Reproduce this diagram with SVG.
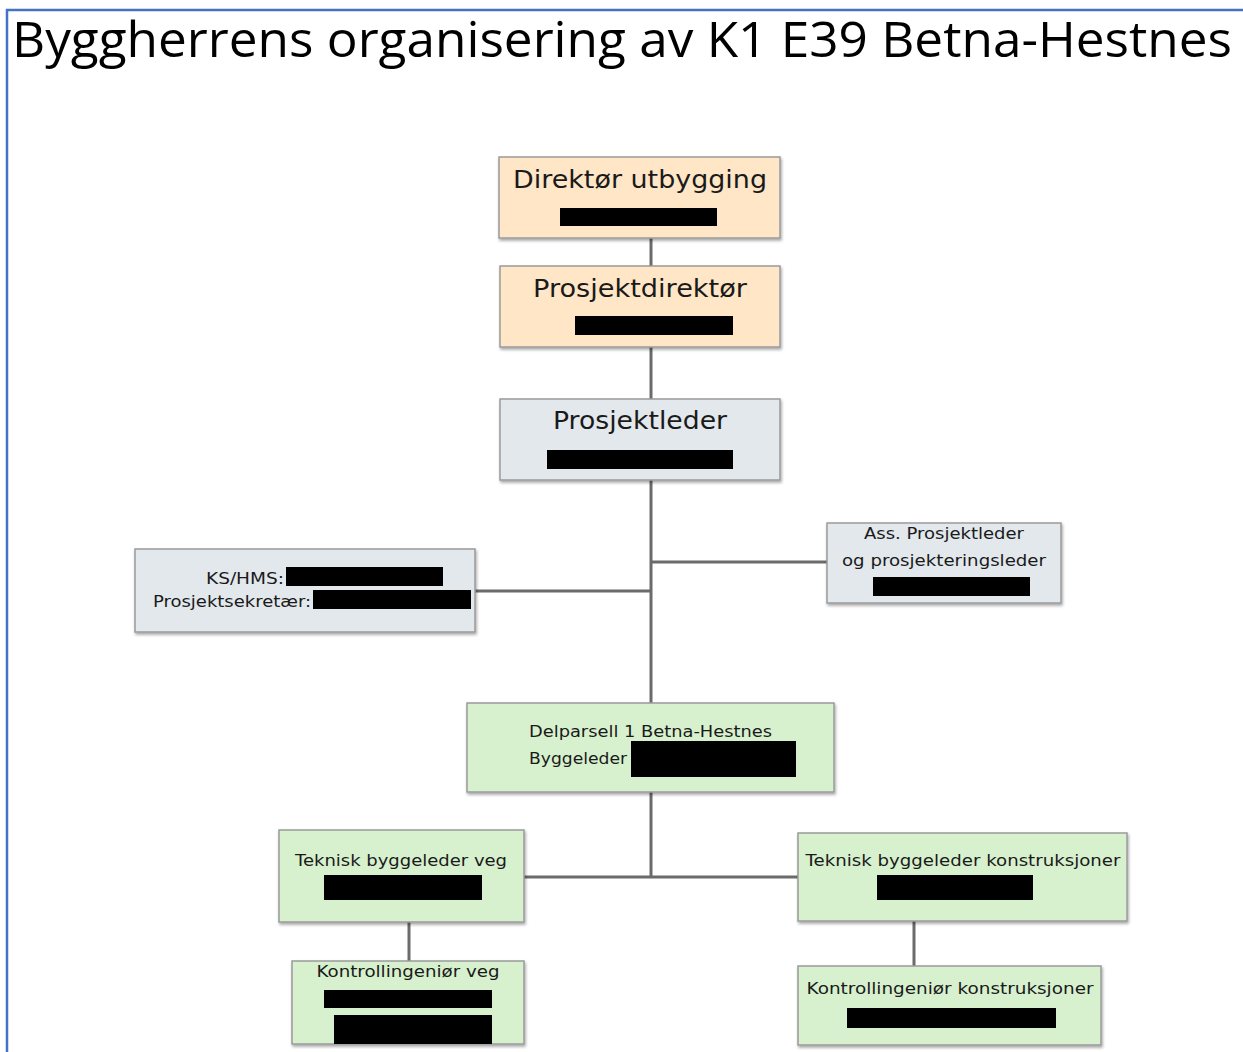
<svg xmlns="http://www.w3.org/2000/svg" width="1243" height="1052" viewBox="0 0 1243 1052">
<defs>
<filter id="sh" x="-5%" y="-5%" width="115%" height="125%">
<feDropShadow dx="1" dy="2" stdDeviation="1.5" flood-color="#000" flood-opacity="0.35"/>
</filter>
<style>
.box{stroke:#9a9a9a;stroke-width:1.5;filter:url(#sh)}
.peach{fill:#FFE6C6}
.grey{fill:#E2E8EC}
.green{fill:#D7F1CE}
.red{fill:#000}
.t{font-family:"DejaVu Sans","Verdana",sans-serif;fill:#1a1a1a}
.big{font-size:25px}
.sm{font-size:16px}
.conn{stroke:#6b6b6b;stroke-width:3;fill:none}
</style>
</defs>
<rect x="0" y="0" width="1243" height="1052" fill="#fff"/>
<path d="M7,1052 V10 H1243" fill="none" stroke="#4472C4" stroke-width="2.5"/>
<text x="12" y="57" font-family="'Open Sans','Liberation Sans',sans-serif" font-size="50" textLength="1220" lengthAdjust="spacingAndGlyphs" fill="#000">Byggherrens organisering av K1 E39 Betna-Hestnes</text>

<g id="connectors">
<line class="conn" x1="651" y1="238" x2="651" y2="266"/>
<line class="conn" x1="651" y1="347" x2="651" y2="399"/>
<line class="conn" x1="651" y1="480" x2="651" y2="703"/>
<line class="conn" x1="651" y1="562" x2="827" y2="562"/>
<line class="conn" x1="475" y1="591" x2="651" y2="591"/>
<line class="conn" x1="651" y1="792" x2="651" y2="877"/>
<line class="conn" x1="524" y1="877" x2="798" y2="877"/>
<line class="conn" x1="409" y1="922" x2="409" y2="961"/>
<line class="conn" x1="914" y1="921" x2="914" y2="966"/>
</g>

<g id="direktor">
<rect class="box peach" x="499" y="157" width="281" height="81"/>
<text class="t big" x="640" y="188" text-anchor="middle" textLength="254" lengthAdjust="spacingAndGlyphs">Direktør utbygging</text>
<rect class="red" x="560" y="208" width="157" height="18"/>
</g>

<g id="prosjektdirektor">
<rect class="box peach" x="500" y="266" width="280" height="81"/>
<text class="t big" x="640" y="297" text-anchor="middle" textLength="214" lengthAdjust="spacingAndGlyphs">Prosjektdirektør</text>
<rect class="red" x="575" y="316" width="158" height="19"/>
</g>

<g id="prosjektleder">
<rect class="box grey" x="500" y="399" width="280" height="81"/>
<text class="t big" x="640" y="429" text-anchor="middle" font-size="26" textLength="174" lengthAdjust="spacingAndGlyphs">Prosjektleder</text>
<rect class="red" x="547" y="450" width="186" height="19"/>
</g>

<g id="ks-hms">
<rect class="box grey" x="135" y="549" width="340" height="83"/>
<text class="t sm" x="284" y="584" text-anchor="end" textLength="78" lengthAdjust="spacingAndGlyphs">KS/HMS:</text>
<rect class="red" x="286" y="567" width="157" height="19"/>
<text class="t sm" x="311" y="607" text-anchor="end" textLength="158" lengthAdjust="spacingAndGlyphs">Prosjektsekretær:</text>
<rect class="red" x="313" y="590" width="158" height="19"/>
</g>

<g id="ass-prosjektleder">
<rect class="box grey" x="827" y="523" width="234" height="80"/>
<text class="t sm" x="944" y="539" text-anchor="middle" textLength="160" lengthAdjust="spacingAndGlyphs">Ass. Prosjektleder</text>
<text class="t sm" x="944" y="566" text-anchor="middle" textLength="204" lengthAdjust="spacingAndGlyphs">og prosjekteringsleder</text>
<rect class="red" x="873" y="577" width="157" height="19"/>
</g>

<g id="delparsell">
<rect class="box green" x="467" y="703" width="367" height="89"/>
<text class="t sm" x="529" y="737" textLength="243" lengthAdjust="spacingAndGlyphs">Delparsell 1 Betna-Hestnes</text>
<text class="t sm" x="529" y="764" textLength="98" lengthAdjust="spacingAndGlyphs">Byggeleder</text>
<rect class="red" x="631" y="741" width="165" height="36"/>
</g>

<g id="tb-veg">
<rect class="box green" x="279" y="830" width="245" height="92"/>
<text class="t sm" x="401" y="866" text-anchor="middle" textLength="212" lengthAdjust="spacingAndGlyphs">Teknisk byggeleder veg</text>
<rect class="red" x="324" y="875" width="158" height="25"/>
</g>

<g id="tb-konstruksjoner">
<rect class="box green" x="798" y="833" width="329" height="88"/>
<text class="t sm" x="963" y="866" text-anchor="middle" textLength="315" lengthAdjust="spacingAndGlyphs">Teknisk byggeleder konstruksjoner</text>
<rect class="red" x="877" y="875" width="156" height="25"/>
</g>

<g id="ki-veg">
<rect class="box green" x="292" y="961" width="232" height="83"/>
<text class="t sm" x="408" y="977" text-anchor="middle" textLength="183" lengthAdjust="spacingAndGlyphs">Kontrollingeniør veg</text>
<rect class="red" x="324" y="990" width="168" height="18"/>
<rect class="red" x="334" y="1015" width="158" height="29"/>
</g>

<g id="ki-konstruksjoner">
<rect class="box green" x="798" y="966" width="303" height="79"/>
<text class="t sm" x="950" y="994" text-anchor="middle" textLength="287" lengthAdjust="spacingAndGlyphs">Kontrollingeniør konstruksjoner</text>
<rect class="red" x="847" y="1008" width="209" height="20"/>
</g>
</svg>
